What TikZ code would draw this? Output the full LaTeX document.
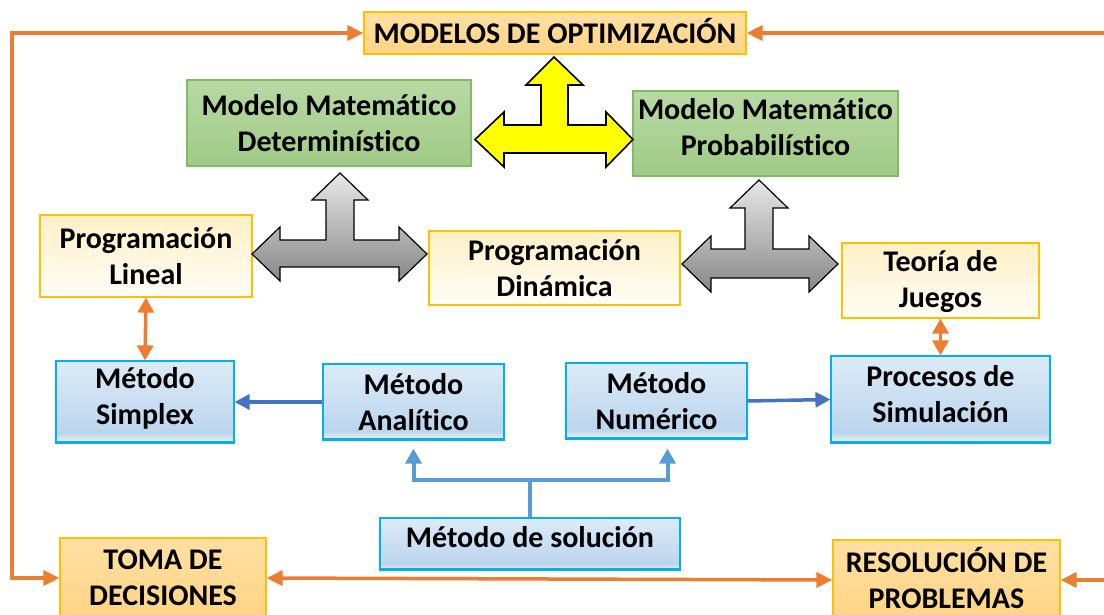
\documentclass[tikz,border=0pt]{standalone}
\usepackage{fontspec}
\setmainfont{Carlito}[Ligatures=NoCommon]
\usetikzlibrary{arrows.meta,calc}
\definecolor{oline}{HTML}{ED7D31}
\definecolor{orborder}{HTML}{FFC000}
\definecolor{orA}{HTML}{FFE0A3}
\definecolor{orB}{HTML}{FFD485}
\definecolor{grborder}{HTML}{82BB62}
\definecolor{grA}{HTML}{B8D9A4}
\definecolor{grB}{HTML}{A0CB86}
\definecolor{crA}{HTML}{FFF0C6}
\definecolor{crB}{HTML}{FFFDF7}
\definecolor{blborder}{HTML}{00B0F0}
\definecolor{blA}{HTML}{DDEBF7}
\definecolor{blB}{HTML}{BBD5ED}
\definecolor{blC}{HTML}{F7F3E6}
\definecolor{darkblue}{HTML}{4472C4}
\definecolor{midblue}{HTML}{5B9BD5}
\definecolor{yel}{HTML}{FFFF00}
\pgfdeclareverticalshading{blueshade}{100bp}{color(0bp)=(blC); color(25bp)=(blC); color(31bp)=(blB); color(75bp)=(blA); color(100bp)=(blA)}
\tikzset{
  txt/.style={font=\bfseries\fontsize{30}{36}\selectfont, align=center, inner sep=0pt},
  orbox/.style={txt, draw=orborder, line width=1.2pt, top color=orA, bottom color=orB},
  grbox/.style={txt, draw=grborder, line width=1.2pt, top color=grA, bottom color=grB},
  crbox/.style={txt, draw=orborder, line width=1.2pt, top color=crA, bottom color=crB},
  blbox/.style={txt, draw=blborder, line width=1.2pt, shading=blueshade,
    path picture={\draw[blborder,line width=5pt] (path picture bounding box.south west) -- (path picture bounding box.south east);}},
  oframe/.style={draw=oline, line width=3.5pt, line join=miter, {Triangle[length=16pt,width=15pt]}-{Triangle[length=16pt,width=15pt]}},
  osmall/.style={draw=oline, line width=3.5pt, {Triangle[length=15pt,width=16pt]}-{Triangle[length=15pt,width=16pt]}},
  barrow/.style={draw=darkblue, line width=3.5pt, -{Triangle[length=15pt,width=15pt]}},
  mline/.style={draw=midblue, line width=4pt},
  marrow/.style={draw=midblue, line width=4pt, -{Triangle[length=15pt,width=16pt]}},
  bigyellow/.style={fill=yel, draw=black, line width=1.6pt, line join=miter},
  biggray/.style={top color=black!9, bottom color=black!47, draw=black, line width=1.2pt, line join=miter},
}
\begin{document}
\begin{tikzpicture}[x=1pt,y=-1pt]
\useasboundingbox (0,0) rectangle (1104,615);
\clip (0,0) rectangle (1104,615);
\fill[white] (0,0) rectangle (1104,615);

% nodes
\node[orbox, minimum width=382pt, minimum height=42pt] (mod) at (555,33) {};
\node[txt] (modt) at (555,31) {MODELOS DE OPTIMIZACIÓN};
\node[grbox, minimum width=284pt, minimum height=86pt] (det) at (329,123) {Modelo Matemático\\Determinístico};
\node[grbox, minimum width=265pt, minimum height=85pt] (prob) at (765.5,133.5) {};
\node[txt] (probt) at (765.5,127) {Modelo Matemático\\Probabilístico};
\node[crbox, minimum width=212pt, minimum height=82pt] (pl) at (146,256) {Programación\\Lineal};
\node[crbox, minimum width=251pt, minimum height=74pt] (pd) at (554.5,268) {Programación\\Dinámica};
\node[crbox, minimum width=197pt, minimum height=75pt] (tj) at (940.5,280.5) {};
\node[txt] (tjt) at (940.5,282) {Teoría de\\Juegos};
\node[blbox, minimum width=178pt, minimum height=82pt] (simp) at (145,402) {};
\node[txt] (simpt) at (145,398) {Método\\Simplex};
\node[blbox, minimum width=181pt, minimum height=76pt] (ana) at (413.5,402) {Método\\Analítico};
\node[blbox, minimum width=181pt, minimum height=76pt] (num) at (656.5,401) {Método\\Numérico};
\node[blbox, minimum width=219pt, minimum height=87pt] (psim) at (940.5,399.5) {};
\node[txt] (psimt) at (940.5,394) {Procesos de\\Simulación};
\node[blbox, minimum width=300pt, minimum height=52pt] (sol) at (530,544) {};
\node[txt] (solt) at (530,537) {Método de solución};
\node[orbox, minimum width=206pt, minimum height=80pt] (toma) at (163,578) {TOMA DE\\DECISIONES};
\node[orbox, minimum width=227pt, minimum height=80pt] (res) at (946.5,580) {};
\node[txt] (rest) at (946.5,578) {RESOLUCIÓN DE\\PROBLEMAS};

% big yellow three-way arrow
\draw[bigyellow] (554,57) -- (583,85) -- (568,85) -- (568,125) -- (606,125) -- (606,112) -- (633,139.5)
  -- (606,167) -- (606,153) -- (504,153) -- (504,167) -- (475,139.5) -- (504,112) -- (504,125)
  -- (541,125) -- (541,85) -- (526,85) -- cycle;

% gray three-way arrows
\draw[biggray] (340,173) -- (368,200) -- (354,200) -- (354,240) -- (399,240) -- (399,227) -- (427,254)
  -- (399,281) -- (399,267) -- (280,267) -- (280,281) -- (252,254) -- (280,227) -- (280,240)
  -- (326,240) -- (326,200) -- (312,200) -- cycle;
\draw[biggray] (759,180) -- (788,208) -- (773,208) -- (773,249) -- (809,249) -- (809,236) -- (838,264)
  -- (809,292) -- (809,278) -- (711,278) -- (711,292) -- (682,264) -- (711,236) -- (711,249)
  -- (745,249) -- (745,208) -- (730,208) -- cycle;

% orange frame
\coordinate (c1) at (12,33);
\coordinate (c2) at (12,578);
\coordinate (c3) at (1114,33);
\coordinate (c4) at (1114,580);
\draw[oframe] (mod.west) -- (c1) -- (c2) -- (toma.west);
\draw[oframe] (mod.east) -- (c3) -- (c4) -- (res.east);
\draw[oframe] (toma.east) -- (res.west);

% small orange double arrows
\draw[osmall] (pl.south) -- (simp.north);
\draw[osmall] (tj.south) -- (psim.north);

% blue arrows
\draw[barrow] (ana.west) -- (simp.east);
\draw[barrow] (num.east) -- (psim.west);

% method of solution connectors
\coordinate (j) at (530,480);
\draw[mline] (sol.north) -- (j);
\draw[marrow, shorten >=8pt] (j) -| (ana.south);
\draw[marrow, shorten >=9pt] (j) -| ([xshift=11pt]num.south);
\end{tikzpicture}
\end{document}
